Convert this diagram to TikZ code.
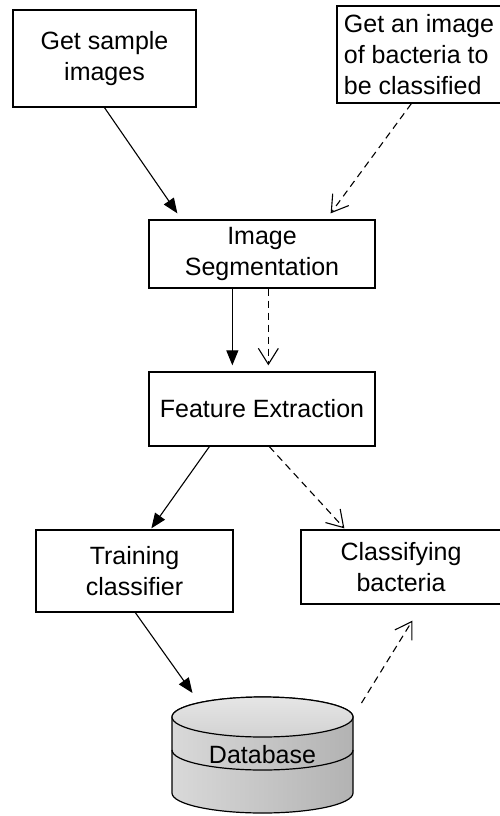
\documentclass[tikz,border=0pt]{standalone}
\usepackage{fontspec}
\setmainfont{Liberation Sans}
\usetikzlibrary{arrows.meta,calc}
\begin{document}
\begin{tikzpicture}[x=1pt,y=-1pt,
  box/.style={draw, line width=1.3pt, inner sep=0pt, font=\fontsize{25}{31}\selectfont},
  solidarr/.style={line width=1.1pt, -{Triangle[length=15pt,width=12pt]}},
  dasharr/.style={line width=1.1pt, dash pattern=on 7pt off 5pt, -{Straight Barb[length=16pt,width=20pt,line width=1.1pt]}}]
\useasboundingbox (0,0) rectangle (499,816);
\node[box, minimum width=183pt, minimum height=97pt, align=center] (gs) at (104.5,58.5) {Get sample\\images};
\node[box, minimum width=164pt, minimum height=97pt, align=left] (gb) at (419,54.5) {Get an image\\of bacteria to\\be classified};
\node[box, minimum width=226pt, minimum height=68pt, align=center] (seg) at (262,254) {Image\\Segmentation};
\node[box, minimum width=226pt, minimum height=74pt, align=center] (fe) at (262,409) {Feature Extraction};
\node[box, minimum width=197pt, minimum height=82pt, align=center] (tc) at (134.5,571) {Training\\classifier};
\node[box, minimum width=200pt, minimum height=74pt, align=center] (cb) at (401,567) {Classifying\\bacteria};
% database
\coordinate (db) at (262.5,717);
\path[left color=gray!30, right color=gray!60, draw, line width=1.2pt]
  (172,717) -- (172,793) arc[start angle=180, end angle=0, x radius=90.5, y radius=20]
  -- (353,717) arc[start angle=0, end angle=-180, x radius=90.5, y radius=20] -- cycle;
\path[top color=gray!20, bottom color=gray!35, draw, line width=1.2pt] (db) ellipse[x radius=90.5, y radius=20];
\draw[line width=1.2pt] (172,750) arc[start angle=180, end angle=0, x radius=90.5, y radius=20];
\node[font=\fontsize{25}{31}\selectfont] (dbl) at (262.5,755) {Database};
% connectors
\draw[solidarr] (gs.south) -- ($(seg.north west)+(29,-6)$);
\draw[dasharr] ($(gb.south west)+(75,0)$) -- ($(seg.north east)+(-45,-6)$);
\draw[solidarr] ($(seg.south west)+(84,0)$) -- ($(fe.north west)+(84,-6)$);
\draw[dasharr] ($(seg.south west)+(120,0)$) -- ($(fe.north west)+(120,-6)$);
\draw[solidarr] ($(fe.south west)+(61,0)$) -- ($(tc.north west)+(116,-1)$);
\draw[dasharr] ($(fe.south west)+(121,0)$) -- ($(cb.north west)+(44,-1)$);
\draw[solidarr] ($(tc.south west)+(100,0)$) -- ($(db)+(-70,-24)$);
\draw[dasharr] ($(db)+(99,-14)$) -- ($(cb.south west)+(112,16)$);
\end{tikzpicture}
\end{document}
